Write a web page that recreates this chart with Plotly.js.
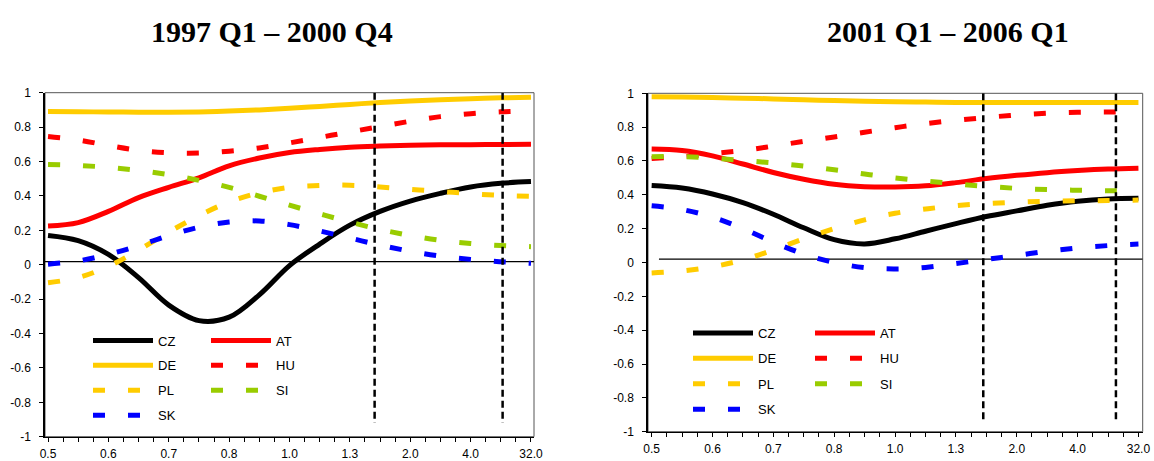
<!DOCTYPE html>
<html>
<head>
<meta charset="utf-8">
<script src="https://cdn.plot.ly/plotly-3.0.1.min.js"></script>
<style>
html,body{margin:0;padding:0;background:#fff;}
#chart{width:1154px;height:461px;}
</style>
</head>
<body>
<div id="chart"></div>
<script>
// x positions: frequency grid index (labels show the period)
const freqIdx = [0,0.5,1,1.5,2,2.5,3,3.5,4,4.5,5,5.5,6,6.5,7,7.5,8];
const tickLabels = ['0.5','0.6','0.7','0.8','1.0','1.3','2.0','4.0','32.0'];
const panelTitles = ['1997 Q1 \u2013 2000 Q4', '2001 Q1 \u2013 2006 Q1'];

// Panel 1: 1997 Q1 – 2000 Q4
const cz1 = [0.17,0.14,0.06,-0.075,-0.235,-0.325,-0.305,-0.175,-0.005,0.12,0.23,0.31,0.37,0.415,0.452,0.473,0.483];
const at1 = [0.225,0.245,0.31,0.39,0.45,0.505,0.575,0.62,0.652,0.67,0.683,0.69,0.695,0.697,0.698,0.699,0.70];
const de1 = [0.89,0.889,0.888,0.887,0.886,0.888,0.893,0.90,0.91,0.92,0.932,0.943,0.952,0.959,0.965,0.97,0.973];
const hu1 = [0.745,0.725,0.693,0.665,0.651,0.649,0.66,0.679,0.708,0.74,0.772,0.803,0.834,0.861,0.878,0.889,0.895];
const pl1 = [-0.105,-0.075,-0.01,0.085,0.19,0.285,0.365,0.418,0.45,0.461,0.462,0.452,0.438,0.426,0.413,0.403,0.398];
const si1 = [0.582,0.577,0.566,0.548,0.523,0.49,0.45,0.398,0.346,0.296,0.248,0.205,0.17,0.142,0.123,0.111,0.105];
const sk1 = [0.003,0.022,0.06,0.11,0.17,0.218,0.248,0.254,0.233,0.196,0.155,0.114,0.078,0.05,0.031,0.017,0.008];
const bands1 = [5.41, 7.53];

// Panel 2: 2001 Q1 – 2006 Q1
const cz2 = [0.455,0.44,0.405,0.354,0.285,0.205,0.135,0.11,0.14,0.185,0.23,0.272,0.305,0.338,0.362,0.375,0.379];
const at2 = [0.671,0.662,0.63,0.582,0.532,0.492,0.462,0.448,0.446,0.453,0.472,0.496,0.515,0.531,0.543,0.552,0.557];
const de2 = [0.98,0.978,0.975,0.971,0.967,0.962,0.957,0.953,0.95,0.948,0.946,0.945,0.945,0.945,0.945,0.945,0.945];
const hu2 = [0.615,0.625,0.643,0.662,0.688,0.716,0.742,0.77,0.797,0.821,0.84,0.857,0.872,0.882,0.888,0.889,0.889];
const pl2 = [-0.062,-0.05,-0.025,0.015,0.075,0.14,0.2,0.252,0.291,0.316,0.336,0.348,0.356,0.362,0.365,0.366,0.369];
const si2 = [0.625,0.626,0.617,0.603,0.588,0.57,0.548,0.523,0.50,0.482,0.465,0.45,0.438,0.431,0.427,0.424,0.424];
const sk2 = [0.335,0.313,0.268,0.20,0.12,0.05,0.0,-0.03,-0.038,-0.029,-0.006,0.018,0.042,0.066,0.086,0.10,0.109];
const bands2 = [5.45, 7.63];

const countries = ['CZ','AT','DE','HU','PL','SI','SK'];
const COLORS = {CZ:'#000000', AT:'#FF0000', DE:'#FFCC00', HU:'#FF0000', PL:'#FFCC00', SI:'#99CC00', SK:'#0000FF'};
const DASHED = {CZ:false, AT:false, DE:false, HU:true, PL:true, SI:true, SK:true};
const COL1 = {CZ:1, DE:1, PL:1, SK:1, AT:2, HU:2, SI:2};

const panels = [
  {data:{CZ:cz1, AT:at1, DE:de1, HU:hu1, PL:pl1, SI:si1, SK:sk1}, xa:'x', ya:'y', legs:['legend','legend2'], tag:'a'},
  {data:{CZ:cz2, AT:at2, DE:de2, HU:hu2, PL:pl2, SI:si2, SK:sk2}, xa:'x2', ya:'y2', legs:['legend3','legend4'], tag:'b'}
];

const traces = [];
panels.forEach(p => {
  countries.forEach(c => {
    traces.push({
      type:'scatter', mode:'lines', name:c,
      x: freqIdx, y: p.data[c],
      xaxis: p.xa, yaxis: p.ya,
      legend: p.legs[COL1[c]-1],
      legendgroup: p.tag + c,
      line: {color: COLORS[c], width: 5, dash: DASHED[c] ? '12px,23px' : 'solid', shape:'spline', smoothing:1},
      hoverinfo:'name+y'
    });
  });
});

const W = 1154, H = 461;
const minorTicks = [];
const minorText = [];
for (let i = 0; i <= 32; i++) { minorTicks.push(i/4); minorText.push(i % 4 === 0 ? tickLabels[i/4] : ''); }

const tickFont = {family:'Liberation Sans, Arial, sans-serif', size:12, color:'#000'};
function xax(domain, range){
  return {domain, range, showline:true, linecolor:'#000', linewidth:1.3, showgrid:false, zeroline:false,
    tickmode:'array', tickvals:minorTicks, ticktext:minorText, ticks:'outside', ticklen:4, tickwidth:1, tickcolor:'#000',
    tickfont:tickFont, ticklabelstandoff:2, fixedrange:true};
}
function yax(domain, anchor){
  return {domain, range:[-1,1], anchor, showline:true, linecolor:'#000', linewidth:1.5, showgrid:false, zeroline:false,
    tickmode:'array', tickvals:[-1,-0.8,-0.6,-0.4,-0.2,0,0.2,0.4,0.6,0.8,1],
    ticktext:['-1','-0.8','-0.6','-0.4','-0.2','0','0.2','0.4','0.6','0.8','1'],
    ticks:'outside', ticklen:4, tickwidth:1, tickcolor:'#000', tickfont:tickFont, ticklabelstandoff:6, fixedrange:true};
}

const legFont = {family:'Liberation Sans, Arial, sans-serif', size:13, color:'#000'};
function leg(xpx, ypx, gap){
  return {x: xpx/W, y: 1 - ypx/H, xanchor:'left', yanchor:'top', bgcolor:'rgba(0,0,0,0)', borderwidth:0,
    font: legFont, itemwidth:60, tracegroupgap:gap, traceorder:'grouped', orientation:'v', itemclick:false, itemdoubleclick:false};
}

const shapes = [];
// frames
[['x','y'],['x2','y2']].forEach(([xa,ya]) => {
  shapes.push({type:'rect', xref:xa+' domain', yref:ya+' domain', x0:0, x1:1, y0:0, y1:1, line:{color:'#555', width:1}, layer:'below'});
});
// zero reference lines
shapes.push({type:'line', xref:'x', yref:'y', x0:-0.05, x1:8.1, y0:0.018, y1:0.018, line:{color:'#000', width:1.3}, layer:'below'});
shapes.push({type:'line', xref:'x2', yref:'y2', x0:0.12, x1:8.07, y0:0.02, y1:0.02, line:{color:'#000', width:1.3}, layer:'below'});
// band boundaries
bands1.forEach(b => shapes.push({type:'line', xref:'x', yref:'y', x0:b, x1:b, y0:1, y1:-0.92, line:{color:'#000', width:2.5, dash:'7px,4px'}}));
bands2.forEach(b => shapes.push({type:'line', xref:'x2', yref:'y2', x0:b, x1:b, y0:1, y1:-0.94, line:{color:'#000', width:2.5, dash:'7px,4px'}}));

const titleFont = {family:'Liberation Serif, Times New Roman, serif', size:30, color:'#000'};
const layout = {
  width:W, height:H, margin:{l:0,r:0,t:0,b:0}, paper_bgcolor:'#fff', plot_bgcolor:'rgba(0,0,0,0)',
  showlegend:true,
  xaxis: xax([45/W, 534/W], [-0.05, 8.05]),
  yaxis: yax([(H-436.7)/H, (H-92.7)/H], 'x'),
  xaxis2: xax([648/W, 1142.7/W], [-0.06, 8.07]),
  yaxis2: yax([(H-431.7)/H, (H-93.3)/H], 'x2'),
  legend: leg(88, 325.5, 5),
  legend2: leg(206, 325.5, 5),
  legend3: leg(688, 318, 5.5),
  legend4: leg(810, 318, 5.5),
  shapes,
  annotations:[
    {text:'<b>'+panelTitles[0]+'</b>', xref:'paper', yref:'paper', x:271.5/W, y:1-31/H, xanchor:'center', yanchor:'middle', showarrow:false, font:titleFont},
    {text:'<b>'+panelTitles[1]+'</b>', xref:'paper', yref:'paper', x:947.5/W, y:1-31/H, xanchor:'center', yanchor:'middle', showarrow:false, font:titleFont}
  ]
};
layout.xaxis2.anchor = 'y2';
layout.xaxis.anchor = 'y';

Plotly.newPlot('chart', traces, layout, {displayModeBar:false, staticPlot:false});
</script>
</body>
</html>
